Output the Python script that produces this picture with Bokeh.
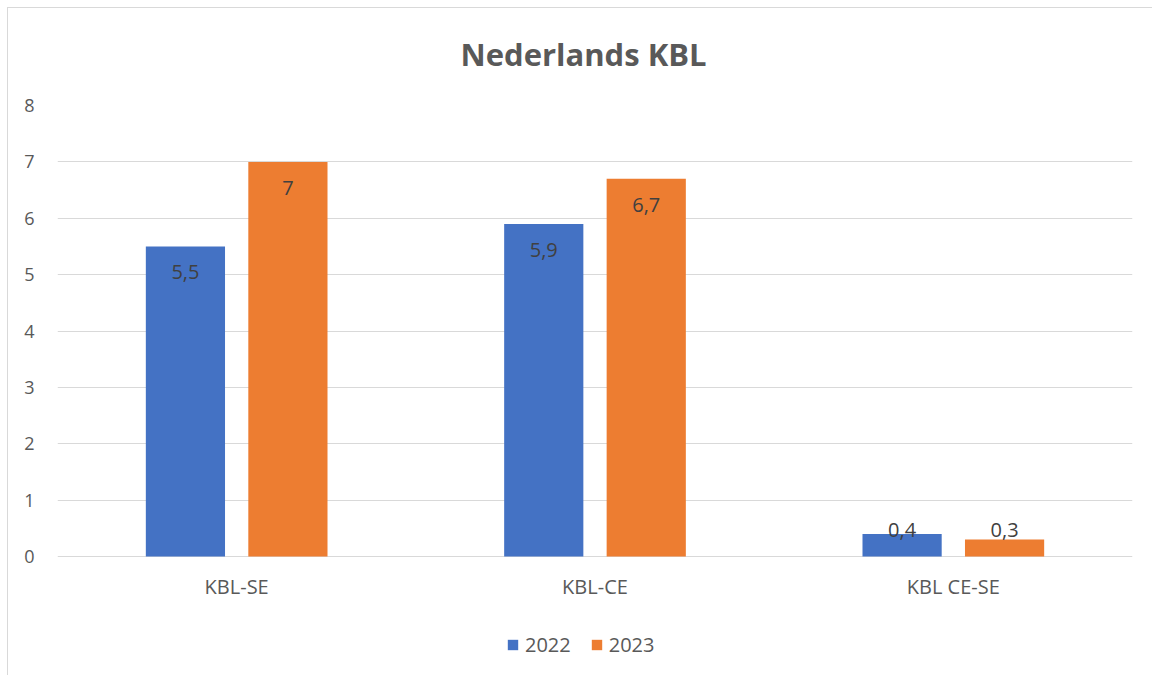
from bokeh.plotting import figure
from bokeh.models import ColumnDataSource, FactorRange, LabelSet, Legend, LegendItem, FixedTicker, Range1d
from bokeh.core.properties import value
from bokeh.transform import dodge
from bokeh.embed import file_html
from bokeh.resources import INLINE

categories = ["KBL-SE", "KBL-CE", "KBL CE-SE"]
series_names = ["2022", "2023"]
values_2022 = [5.5, 5.9, 0.4]
values_2023 = [7.0, 6.7, 0.3]
y_ticks = [0, 1, 2, 3, 4, 5, 6, 7, 8]
colors = ["#4472C4", "#ED7D31"]

FONT = "Open Sans"
TXT = "#595959"


def fmt(v):
    s = ("%g" % v).replace(".", ",")
    return s


# frame extends below the zero line so that category labels and legend live inside it
p = figure(x_range=FactorRange(*categories, range_padding=0), y_range=Range1d(-2.1286, 8),
           frame_width=1075, frame_height=571, output_backend="svg", toolbar_location=None,
           min_border_left=57, min_border_right=20, min_border_top=104, min_border_bottom=0)
p.border_fill_color = None
p.styles = {
    "background-color": "#ffffff",
    "background-image": "linear-gradient(#d9d9d9, #d9d9d9), linear-gradient(#d9d9d9, #d9d9d9)",
    "background-size": "100% 1px, 1px 100%",
    "background-position": "7px 7px, 7px 7px",
    "background-repeat": "no-repeat",
}

p.title.text = "Nederlands KBL"
p.title.align = "left"
p.title.offset = 403
p.title.text_font = FONT
p.title.text_font_size = "31px"
p.title.text_font_style = "bold"
p.title.text_color = TXT
p.title.standoff = 61

renderers = []
for i, (name, vals) in enumerate(zip(series_names, [values_2022, values_2023])):
    vals = [float(v) for v in vals]
    src = ColumnDataSource(dict(
        cat=categories,
        val=vals,
        lab=[fmt(v) for v in vals],
        ly=[0.0 if v < 1 else v for v in vals],
        loff=[27 if v < 1 else -26 for v in vals],
    ))
    off = -0.143 if i == 0 else 0.143
    r = p.vbar(x=dodge("cat", off, range=p.x_range), top="val", width=0.221, source=src,
               fill_color=colors[i], line_color=None)
    renderers.append((name, r))
    ls = LabelSet(x=dodge("cat", off, range=p.x_range), y="ly", text="lab", y_offset="loff",
                  source=src, text_align="center", text_baseline="middle",
                  text_font=value(FONT), text_font_size=value("20px"), text_color=value("#404040"))
    p.add_layout(ls)

# category labels under the zero line
cat_src = ColumnDataSource(dict(cat=categories, base=[0.0] * len(categories)))
p.add_layout(LabelSet(x="cat", y="base", text="cat", y_offset=-30, source=cat_src,
                      text_align="center", text_baseline="middle",
                      text_font=value(FONT), text_font_size=value("20px"), text_color=value(TXT)))

p.xaxis.visible = False
p.xgrid.grid_line_color = None
p.ygrid.ticker = FixedTicker(ticks=y_ticks)
p.ygrid.grid_line_color = "#d9d9d9"
p.ygrid.grid_line_width = 1
p.yaxis.ticker = FixedTicker(ticks=y_ticks)
p.yaxis.axis_line_color = None
p.yaxis.major_tick_line_color = None
p.yaxis.minor_tick_line_color = None
p.yaxis.major_label_standoff = 17
p.yaxis.major_label_text_font = FONT
p.yaxis.major_label_text_font_size = "18px"
p.yaxis.major_label_text_color = TXT
p.outline_line_color = None

legend = Legend(items=[LegendItem(label=n, renderers=[r]) for n, r in renderers],
                orientation="horizontal", location=(449, 18),
                glyph_width=13, glyph_height=13, label_standoff=6, spacing=19,
                label_text_font=FONT, label_text_font_size="20px", label_text_color=TXT,
                border_line_color=None, background_fill_alpha=0, padding=5, margin=0)
p.add_layout(legend)

open("out.html", "w").write(file_html(p, INLINE))
